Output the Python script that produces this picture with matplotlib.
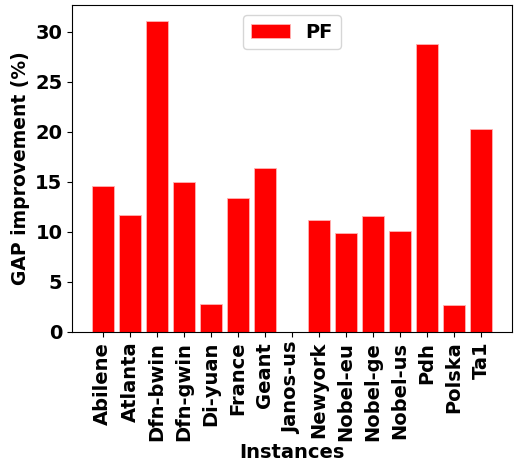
import matplotlib
matplotlib.use("Agg")
import matplotlib.pyplot as plt

instances = ["Abilene", "Atlanta", "Dfn-bwin", "Dfn-gwin", "Di-yuan", "France", "Geant",
             "Janos-us", "Newyork", "Nobel-eu", "Nobel-ge", "Nobel-us", "Pdh", "Polska", "Ta1"]
pf_values = [14.57, 11.67, 31.13, 15.03, 2.83, 13.43, 16.37, 0.0, 11.23, 9.87, 11.57, 10.07,
             28.77, 2.67, 20.27]

plt.rcParams['font.weight'] = 'bold'
plt.rcParams['font.family'] = ['DejaVu Sans']

fig = plt.figure(figsize=(5.15, 4.63), dpi=100)
ax = fig.add_axes([0.14, 0.283, 0.854, 0.706])
x = list(range(len(instances)))
ax.bar(x, pf_values, color='red', edgecolor='#ffb3b3', linewidth=0.6, label='PF')
ax.set_xticks(x)
ax.set_xticklabels(instances, rotation=90, fontsize=14, fontweight='bold')
ax.tick_params(axis='y', labelsize=14)
for t in ax.get_yticklabels():
    t.set_fontweight('bold')
ax.set_ylabel('GAP improvement (%)', fontsize=13.5, fontweight='bold')
ax.set_xlabel('Instances', fontsize=14, fontweight='bold', labelpad=2)
ax.legend(loc='upper center', prop={'weight': 'bold', 'size': 14})
fig.savefig('out.png', dpi=100)
